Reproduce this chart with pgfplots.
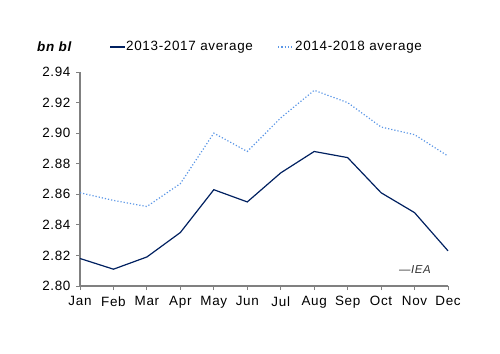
\documentclass[border=0pt]{standalone}
\usepackage{pgfplots}
\pgfplotsset{compat=1.18}
\usepackage{fontspec}
\setmainfont{Liberation Sans}[LetterSpace=5]
\definecolor{navyline}{RGB}{0,32,96}
\definecolor{lightline}{RGB}{90,150,230}
\definecolor{axgrey}{RGB}{128,128,128}
\begin{document}
\begin{tikzpicture}[x=1bp,y=1bp]
\useasboundingbox (0,0) rectangle (500,353);
\begin{axis}[
  at={(80bp,67bp)}, anchor=south west,
  scale only axis, width=368bp, height=214bp,
  xmin=0, xmax=11, ymin=2.80, ymax=2.94,
  axis x line*=bottom, axis y line*=left,
  axis line style={axgrey, line width=1.2pt},
  every tick/.style={axgrey, line width=0.9pt},
  tick align=outside, major tick length=4bp,
  xtick={0,...,11},
  xticklabels={Jan,Feb,Mar,Apr,May,Jun,Jul,Aug,Sep,Oct,Nov,Dec},
  ytick={2.80,2.82,...,2.94},
  yticklabel style={/pgf/number format/fixed,/pgf/number format/fixed zerofill,/pgf/number format/precision=2, xshift=-2bp},
  /pgf/number format/assume math mode=true,
  tick label style={font=\fontsize{13.5}{15}\selectfont, text=black},
  xticklabel style={yshift=-3bp},
  clip=false,
]
\addplot[navyline, line width=1.2pt] coordinates {
(0,2.818) (1,2.811) (2,2.819) (3,2.835) (4,2.863) (5,2.855) (6,2.874) (7,2.888) (8,2.884) (9,2.861) (10,2.848) (11,2.823)};
\addplot[lightline, line width=1.2pt, dotted] coordinates {
(0,2.861) (1,2.856) (2,2.852) (3,2.867) (4,2.900) (5,2.888) (6,2.910) (7,2.928) (8,2.920) (9,2.904) (10,2.899) (11,2.885)};
\end{axis}
\node[anchor=west, font=\bfseries\itshape\fontsize{13.5}{15}\selectfont, inner sep=0pt] at (37,306) {bn bl};
\draw[navyline, line width=1.3pt] (110,306) -- (125,306);
\node[anchor=west, font=\fontsize{13.5}{15}\selectfont, inner sep=0pt] at (126,306) {2013-2017 average};
\draw[lightline, line width=1.3pt, dotted] (278,306) -- (293,306);
\node[anchor=west, font=\fontsize{13.5}{15}\selectfont, inner sep=0pt] at (295,306) {2014-2018 average};
\node[anchor=west, font=\itshape\fontsize{11.5}{13}\selectfont, text=black!80, inner sep=0pt] at (399,83) {---IEA};
\end{tikzpicture}
\end{document}
